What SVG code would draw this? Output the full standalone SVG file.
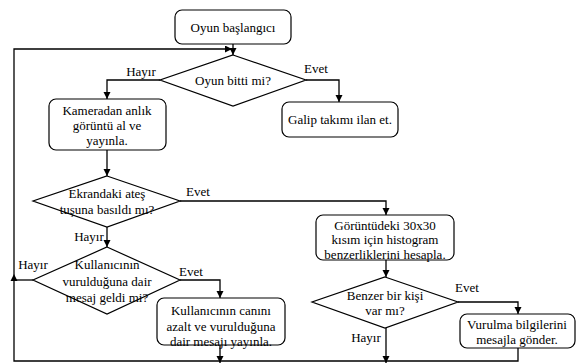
<svg xmlns="http://www.w3.org/2000/svg" width="576" height="363" viewBox="0 0 576 363">
<style>
.n{fill:#fff;stroke:#000;stroke-width:1.2}
.c{fill:none;stroke:#000;stroke-width:1.3}
text{font-family:'Liberation Serif','Times New Roman','DejaVu Serif',serif;font-size:13px;fill:#000;text-anchor:middle}
</style>
<defs>
<marker id="ah" markerUnits="userSpaceOnUse" markerWidth="8" markerHeight="8" refX="7" refY="3.5" orient="auto">
<path d="M0,0 L7,3.5 L0,7 z" fill="#000"/>
</marker>
</defs>
<rect width="576" height="363" fill="#fff"/>
<g id="connectors" font-family="Liberation Serif, Times New Roman, serif">
<path class="c" d="M233 44 V55" marker-end="url(#ah)"/>
<path class="c" d="M518 348 V361 H14 V49 H232" marker-end="url(#ah)"/>
<path class="c" d="M220 345 V363" marker-end="url(#ah)"/>
<path class="c" d="M386 328 V363" marker-end="url(#ah)"/>
<path class="c" d="M33 280 H14"/>
<polygon points="14,274 10.5,281 17.5,281" fill="#000"/>
<path class="c" d="M160 80 H107 V99" marker-end="url(#ah)"/>
<path class="c" d="M306 80 H339 V102" marker-end="url(#ah)"/>
<path class="c" d="M107 150 V176" marker-end="url(#ah)"/>
<path class="c" d="M180 201 H386 V215" marker-end="url(#ah)"/>
<path class="c" d="M107 227 V247" marker-end="url(#ah)"/>
<path class="c" d="M180 280 H220 V298" marker-end="url(#ah)"/>
<path class="c" d="M386 260 V277" marker-end="url(#ah)"/>
<path class="c" d="M458 302 H518 V314" marker-end="url(#ah)"/>
<text x="141" y="76">Hayır</text>
<text x="316" y="73">Evet</text>
<text x="198" y="196">Evet</text>
<text x="89" y="241">Hayır</text>
<text x="33" y="269">Hayır</text>
<text x="191" y="276">Evet</text>
<text x="467" y="292">Evet</text>
<text x="366" y="342">Hayır</text>
</g>
<g id="start">
<rect class="n" x="175" y="10" width="116" height="34" rx="7"/>
<text x="233" y="32">Oyun başlangıcı</text>
</g>
<g id="d1">
<polygon class="n" points="233,55 306,80 233,106 160,80"/>
<text x="233" y="85">Oyun bitti mi?</text>
</g>
<g id="kamera">
<rect class="n" x="49" y="99" width="117" height="51" rx="7"/>
<text x="107" y="114.5">Kameradan anlık</text>
<text x="107" y="129.5">görüntü al ve</text>
<text x="107" y="144.5">yayınla.</text>
</g>
<g id="galip">
<rect class="n" x="282" y="102" width="116" height="35" rx="7"/>
<text x="340" y="124">Galip takımı ilan et.</text>
</g>
<g id="d2">
<polygon class="n" points="107,176 180,201 107,227 33,201"/>
<text x="107" y="197.5">Ekrandaki ateş</text>
<text x="107" y="213.5">tuşuna basıldı mı?</text>
</g>
<g id="histogram">
<rect class="n" x="316" y="215" width="138" height="45" rx="7"/>
<text x="385" y="229.5">Görüntüdeki 30x30</text>
<text x="385" y="244">kısım için histogram</text>
<text x="385" y="258.5">benzerliklerini hesapla.</text>
</g>
<g id="d3">
<polygon class="n" points="385,277 458,302 385,328 312,302"/>
<text x="385" y="299.5">Benzer bir kişi</text>
<text x="385" y="315">var mı?</text>
</g>
<g id="vurulma">
<rect class="n" x="460" y="314" width="115" height="34" rx="7"/>
<text x="517" y="329">Vurulma bilgilerini</text>
<text x="517" y="344">mesajla gönder.</text>
</g>
<g id="d4">
<polygon class="n" points="107,247 180,280 107,314 33,280"/>
<text x="107" y="269">Kullanıcının</text>
<text x="107" y="286">vurulduğuna dair</text>
<text x="107" y="302">mesaj geldi mi?</text>
</g>
<g id="azalt">
<rect class="n" x="157" y="298" width="128" height="47" rx="7"/>
<text x="221" y="315">Kullanıcının canını</text>
<text x="221" y="331">azalt ve vurulduğuna</text>
<text x="221" y="346">dair mesajı yayınla.</text>
</g>
</svg>
